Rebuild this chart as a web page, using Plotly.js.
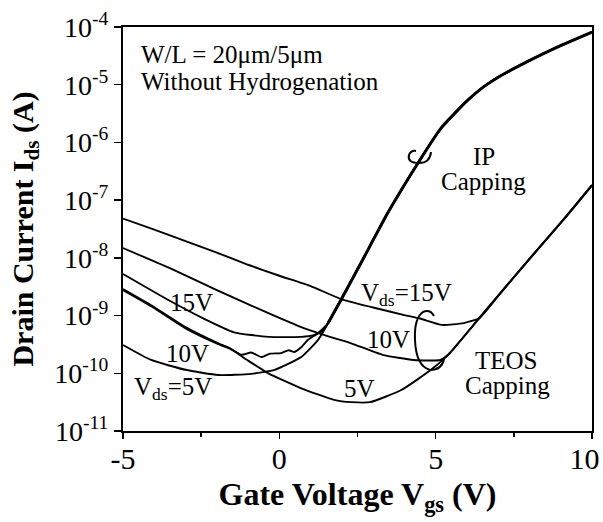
<!DOCTYPE html>
<html>
<head>
<meta charset="utf-8">
<script src="https://cdn.plot.ly/plotly-3.0.1.min.js"></script>
<style>html,body{margin:0;padding:0;background:#fff;}#chart{width:603px;height:522px;}</style>
</head>
<body>
<div id="chart"></div>
<script>
// ---- Data (Vgs in V, Ids in A) ----
// IP capping: shared steep tail after curves merge
const ipTailVgs = [1.56, 1.97, 2.61, 3.47, 4.43, 5.16, 5.6, 6.02, 6.5, 7.0, 7.93, 8.89, 10];
const ipTailIds = [7.41e-10, 1.86e-9, 8.13e-9, 6.03e-8, 4.37e-7, 1.74e-6, 3.16e-6, 5.37e-6, 8.91e-6, 1.35e-5, 2.51e-5, 4.47e-5, 8.13e-5];

const ip15Vgs = [-5, -3.55, -2.5, -1.45, -0.35, 0.7, 1.1, 1.4];
const ip15Ids = [5.25e-9, 1.86e-9, 9.33e-10, 5.13e-10, 4.27e-10, 4.27e-10, 4.57e-10, 5.5e-10];

const ip10Vgs = [-5, -4.1, -3, -1.95, -1.6, -1.2, -0.9, -0.57, -0.3, 0.06, 0.3, 0.48, 0.7, 0.92, 1.24];
const ip10Ids = [2.75e-9, 1.45e-9, 6.0e-10, 3.2e-10, 2.7e-10, 2.09e-10, 2.29e-10, 1.91e-10, 2.19e-10, 2.24e-10, 2.51e-10, 2.34e-10, 2.82e-10, 3.80e-10, 5.0e-10];

const ip5Vgs = [-5, -4.1, -3, -1.95, -0.9, -0.15, 0.7, 1.24];
const ip5Ids = [3.09e-10, 1.70e-10, 1.15e-10, 9.33e-11, 9.77e-11, 1.15e-10, 1.91e-10, 3.80e-10];

// TEOS capping: shared tail after curves merge
const teosTailVgs = [6.4, 7.07, 8.25, 9.1, 10];
const teosTailIds = [9.1e-10, 2.45e-9, 1.38e-8, 4.68e-8, 1.82e-7];

const teos15Vgs = [-5, -4, -3, -2, -1, 0, 1, 2, 3, 4, 4.5, 5.2, 5.9];
const teos15Ids = [4.79e-8, 3.09e-8, 1.95e-8, 1.23e-8, 7.59e-9, 4.90e-9, 3.24e-9, 1.91e-9, 1.38e-9, 1.02e-9, 8.9e-10, 6.9e-10, 7.4e-10];

const teos10Vgs = [-5, -3.5, -2, -0.35, 0.7, 1.75, 2.3, 3.3, 4.3, 5.15, 5.4];
const teos10Ids = [1.48e-8, 6.61e-9, 2.75e-9, 1.10e-9, 6.31e-10, 4.07e-10, 3.31e-10, 2.09e-10, 1.70e-10, 1.70e-10, 2.09e-10];

const teos5Vgs = [-5, -4.1, -3, -1.95, -1.6, -1, -0.35, 0.7, 1.75, 2.3, 2.9, 3.9, 4.85, 5.4];
const teos5Ids = [2.88e-9, 1.51e-9, 6.31e-10, 3.31e-10, 2.75e-10, 1.66e-10, 1.0e-10, 5.5e-11, 3.47e-11, 3.16e-11, 3.16e-11, 5.13e-11, 1.15e-10, 2.09e-10];

const yTickVals = [1e-11, 1e-10, 1e-9, 1e-8, 1e-7, 1e-6, 1e-5, 1e-4];
const yTickText = ['10<sup>-11</sup>', '10<sup>-10</sup>', '10<sup>-9</sup>', '10<sup>-8</sup>', '10<sup>-7</sup>', '10<sup>-6</sup>', '10<sup>-5</sup>', '10<sup>-4</sup>'];
const xTickVals = [-5, 0, 5, 10];
const xTickText = ['-5', '0', '5', '10\u2007'];

// ---- Build traces ----
const FONT = 'Liberation Serif, Times New Roman, serif';
function curve(x, y, tx, ty, w) {
  return {
    x: tx ? x.concat(tx) : x,
    y: ty ? y.concat(ty) : y,
    type: 'scatter', mode: 'lines',
    line: {color: '#000', width: w || 1.9, shape: 'spline', smoothing: 0.5},
    hoverinfo: 'skip', showlegend: false
  };
}
const traces = [
  curve(teos15Vgs, teos15Ids, teosTailVgs, teosTailIds),
  curve(teos10Vgs, teos10Ids, teosTailVgs, teosTailIds),
  curve(teos5Vgs, teos5Ids, teosTailVgs, teosTailIds),
  curve(ip15Vgs, ip15Ids, ipTailVgs, ipTailIds),
  curve(ip10Vgs, ip10Ids, ipTailVgs, ipTailIds),
  curve(ip5Vgs, ip5Ids, ipTailVgs, ipTailIds),
  curve(ipTailVgs, ipTailIds, null, null, 3)
];

// plot area pixel geometry (for decorative curl marks)
const L = 123, R = 592, T = 27, B = 431;
function P(px, py) { return ((px - L) / (R - L)).toFixed(4) + ',' + ((B - py) / (B - T)).toFixed(4); }
const ipCurl = 'M' + P(431, 152) + ' Q' + P(430, 163) + ' ' + P(419, 163) + ' Q' + P(407, 163) + ' ' + P(409, 155) + ' Q' + P(411, 150) + ' ' + P(416, 151);
const teosCurl = 'M' + P(434, 316) + ' Q' + P(430, 309) + ' ' + P(423, 312) + ' Q' + P(414, 318) + ' ' + P(415, 340) + ' Q' + P(416, 366) + ' ' + P(430, 370) + ' Q' + P(442, 370) + ' ' + P(444, 359);

function ann(text, x, ylog, anchor) {
  return {text: text, x: x, y: ylog, xref: 'x', yref: 'y', showarrow: false,
          xanchor: anchor || 'center', yanchor: 'middle',
          font: {family: FONT, size: 25, color: '#000'}};
}

const layout = {
  width: 603, height: 522,
  margin: {l: 123, r: 11, t: 27, b: 91},
  paper_bgcolor: '#fff', plot_bgcolor: '#fff',
  font: {family: FONT, color: '#000'},
  xaxis: {
    type: 'linear', range: [-5, 10], autorange: false,
    tickvals: xTickVals, ticktext: xTickText,
    ticks: 'outside', ticklen: 6, tickwidth: 1.5, tickcolor: '#000',
    minor: {dtick: 2.5, tick0: -5, ticks: 'outside', ticklen: 4, tickcolor: '#000', showgrid: false},
    showline: true, linecolor: '#000', linewidth: 2, mirror: true,
    showgrid: false, zeroline: false,
    ticklabeloverflow: 'allow', ticklabelstandoff: -6,
    tickfont: {family: FONT, size: 30, color: '#000'},
    title: {text: '<b>Gate Voltage V<sub>gs</sub> (V)</b>', font: {family: FONT, size: 32, color: '#000'}, standoff: 9}
  },
  yaxis: {
    type: 'log', range: [-11, -4], autorange: false,
    tickvals: yTickVals, ticktext: yTickText,
    ticks: 'outside', ticklen: 7, tickwidth: 1.5, tickcolor: '#000',
    showline: true, linecolor: '#000', linewidth: 2, mirror: true,
    showgrid: false, zeroline: false,
    tickfont: {family: FONT, size: 28, color: '#000'},
    title: {text: '<b>Drain Current I<sub>ds</sub> (A)</b>', font: {family: FONT, size: 30, color: '#000'}, standoff: 12}
  },
  annotations: [
    ann('W/L = 20\u03bcm/5\u03bcm', -4.48, -4.47, 'left'),
    ann('Without Hydrogenation', -4.48, -4.94, 'left'),
    ann('IP', 6.53, -6.25),
    ann('Capping', 6.53, -6.68),
    ann('15V', -2.8, -8.78),
    ann('10V', -2.93, -9.65),
    ann('V<sub>ds</sub>=5V', -4.7, -10.27, 'left'),
    ann('5V', 2.55, -10.26),
    ann('V<sub>ds</sub>=15V', 2.55, -8.64, 'left'),
    ann('10V', 3.5, -9.42),
    ann('TEOS', 7.26, -9.77),
    ann('Capping', 7.29, -10.22)
  ],
  shapes: [
    {type: 'path', xref: 'paper', yref: 'paper', path: ipCurl, line: {color: '#000', width: 2}},
    {type: 'path', xref: 'paper', yref: 'paper', path: teosCurl, line: {color: '#000', width: 2}}
  ]
};

Plotly.newPlot('chart', traces, layout, {staticPlot: true, displayModeBar: false});
</script>
</body>
</html>
